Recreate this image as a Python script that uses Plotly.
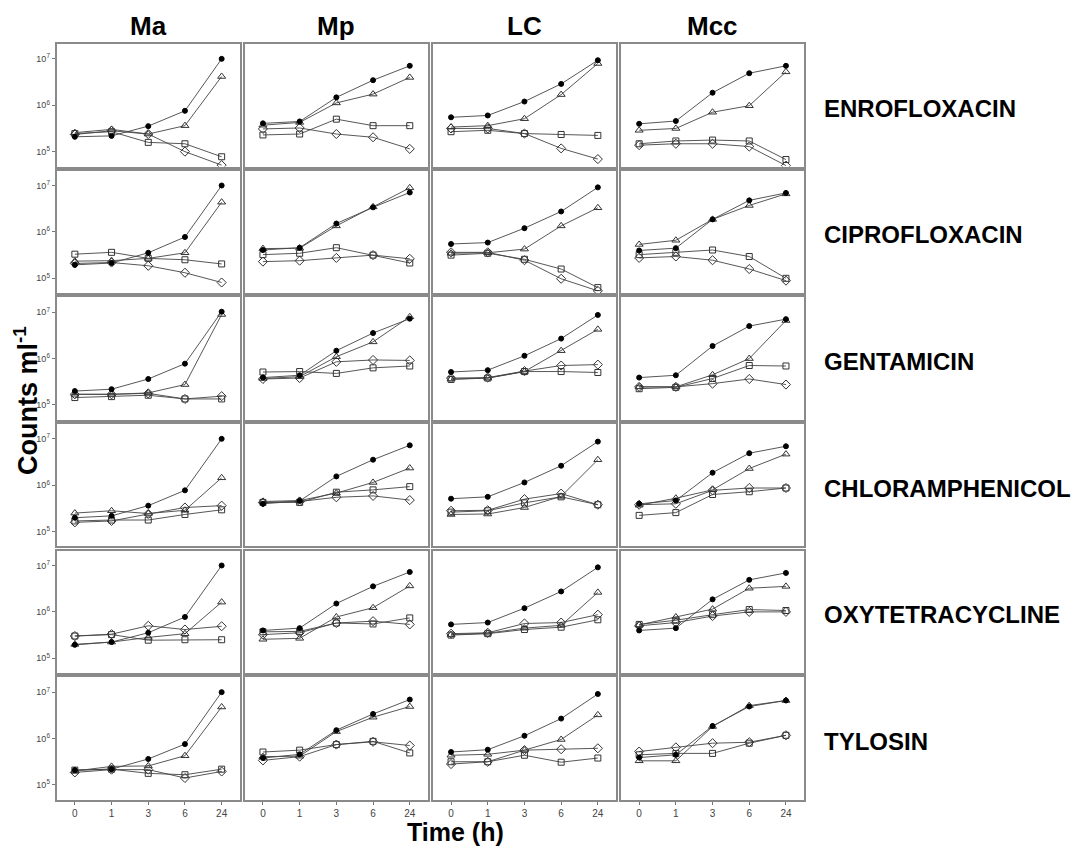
import plotly.graph_objects as go
from plotly.subplots import make_subplots

# ---------------- data (log10 counts per ml) ----------------
times = ["0", "1", "3", "6", "24"]
strains = ["Ma", "Mp", "LC", "Mcc"]
antibiotics = ["ENROFLOXACIN", "CIPROFLOXACIN", "GENTAMICIN",
               "CHLORAMPHENICOL", "OXYTETRACYCLINE", "TYLOSIN"]
ytick_vals = [5, 6, 7]
ytick_text = ["10<sup>5</sup>", "10<sup>6</sup>", "10<sup>7</sup>"]

# each list: [filled circle, open triangle, open square, open diamond]
enro_Ma = [[5.32, 5.34, 5.55, 5.88, 7.00], [5.41, 5.48, 5.38, 5.56, 6.62],
           [5.39, 5.43, 5.20, 5.17, 4.89], [5.37, 5.45, 5.38, 5.00, 4.71]]
enro_Mp = [[5.61, 5.65, 6.17, 6.54, 6.85], [5.57, 5.63, 6.05, 6.24, 6.60],
           [5.36, 5.38, 5.70, 5.56, 5.56], [5.49, 5.51, 5.38, 5.31, 5.06]]
enro_LC = [[5.74, 5.78, 6.08, 6.46, 6.97], [5.53, 5.56, 5.71, 6.23, 6.90],
           [5.43, 5.46, 5.39, 5.37, 5.35], [5.50, 5.50, 5.39, 5.07, 4.84]]
enro_Mcc = [[5.60, 5.66, 6.27, 6.69, 6.85], [5.46, 5.50, 5.85, 5.99, 6.72],
            [5.17, 5.23, 5.25, 5.23, 4.83], [5.14, 5.17, 5.17, 5.11, 4.70]]

cipro_Ma = [[5.29, 5.33, 5.55, 5.89, 7.00], [5.37, 5.38, 5.43, 5.55, 6.64],
            [5.52, 5.56, 5.43, 5.40, 5.31], [5.32, 5.34, 5.27, 5.12, 4.91]]
cipro_Mp = [[5.61, 5.66, 6.18, 6.53, 6.85], [5.64, 5.65, 6.13, 6.54, 6.95],
            [5.51, 5.54, 5.66, 5.50, 5.33], [5.36, 5.38, 5.44, 5.50, 5.42]]
cipro_LC = [[5.74, 5.77, 6.08, 6.44, 6.96], [5.54, 5.55, 5.63, 6.13, 6.52],
            [5.50, 5.54, 5.41, 5.20, 4.80], [5.56, 5.56, 5.39, 4.99, 4.73]]
cipro_Mcc = [[5.60, 5.65, 6.27, 6.68, 6.84], [5.73, 5.82, 6.27, 6.57, 6.82],
             [5.51, 5.56, 5.61, 5.47, 5.00], [5.44, 5.47, 5.39, 5.20, 4.95]]

genta_Ma = [[5.30, 5.34, 5.56, 5.89, 7.01], [5.23, 5.23, 5.26, 5.44, 6.95],
            [5.16, 5.18, 5.21, 5.13, 5.13], [5.23, 5.23, 5.25, 5.13, 5.19]]
genta_Mp = [[5.59, 5.64, 6.17, 6.55, 6.86], [5.57, 5.61, 6.04, 6.36, 6.90],
            [5.71, 5.72, 5.68, 5.80, 5.84], [5.56, 5.58, 5.93, 5.97, 5.96]]
genta_LC = [[5.71, 5.75, 6.06, 6.43, 6.94], [5.56, 5.58, 5.72, 6.17, 6.63],
            [5.55, 5.58, 5.72, 5.72, 5.70], [5.58, 5.59, 5.73, 5.85, 5.87]]
genta_Mcc = [[5.59, 5.64, 6.27, 6.70, 6.85], [5.39, 5.39, 5.65, 6.00, 6.82],
             [5.35, 5.38, 5.57, 5.85, 5.84], [5.39, 5.39, 5.46, 5.56, 5.44]]

chlor_Ma = [[5.30, 5.34, 5.56, 5.89, 7.00], [5.40, 5.45, 5.39, 5.46, 6.16],
            [5.23, 5.25, 5.25, 5.37, 5.47], [5.20, 5.23, 5.38, 5.52, 5.56]]
chlor_Mp = [[5.60, 5.66, 6.19, 6.55, 6.86], [5.65, 5.67, 5.83, 6.06, 6.37],
            [5.63, 5.63, 5.85, 5.90, 5.97], [5.63, 5.65, 5.74, 5.77, 5.68]]
chlor_LC = [[5.71, 5.75, 6.06, 6.42, 6.94], [5.37, 5.38, 5.52, 5.76, 6.55],
            [5.42, 5.45, 5.62, 5.75, 5.58], [5.45, 5.46, 5.70, 5.82, 5.58]]
chlor_Mcc = [[5.60, 5.67, 6.27, 6.69, 6.84], [5.57, 5.72, 5.90, 6.36, 6.67],
             [5.35, 5.41, 5.80, 5.86, 5.94], [5.58, 5.60, 5.89, 5.94, 5.94]]

oxy_Ma = [[5.29, 5.35, 5.55, 5.89, 7.00], [5.30, 5.35, 5.45, 5.53, 6.21],
          [5.48, 5.51, 5.39, 5.40, 5.40], [5.48, 5.52, 5.70, 5.62, 5.69]]
oxy_Mp = [[5.60, 5.65, 6.18, 6.55, 6.86], [5.41, 5.43, 5.89, 6.09, 6.56],
          [5.57, 5.58, 5.76, 5.74, 5.87], [5.51, 5.55, 5.76, 5.80, 5.73]]
oxy_LC = [[5.73, 5.77, 6.08, 6.44, 6.96], [5.51, 5.54, 5.65, 5.71, 6.42],
          [5.50, 5.53, 5.62, 5.67, 5.83], [5.53, 5.55, 5.75, 5.77, 5.94]]
oxy_Mcc = [[5.60, 5.65, 6.27, 6.69, 6.84], [5.72, 5.89, 6.06, 6.51, 6.55],
           [5.73, 5.82, 5.94, 6.05, 6.03], [5.70, 5.77, 5.91, 6.00, 6.00]]

tylo_Ma = [[5.32, 5.34, 5.56, 5.88, 7.00], [5.30, 5.40, 5.41, 5.63, 6.68],
           [5.32, 5.34, 5.25, 5.22, 5.34], [5.27, 5.33, 5.33, 5.15, 5.29]]
tylo_Mp = [[5.58, 5.66, 6.18, 6.53, 6.84], [5.61, 5.62, 6.15, 6.46, 6.69],
           [5.71, 5.75, 5.87, 5.94, 5.69], [5.53, 5.61, 5.87, 5.93, 5.85]]
tylo_LC = [[5.71, 5.76, 6.06, 6.43, 6.96], [5.64, 5.66, 5.75, 5.98, 6.51],
           [5.50, 5.50, 5.64, 5.49, 5.58], [5.45, 5.50, 5.75, 5.77, 5.79]]
tylo_Mcc = [[5.59, 5.65, 6.27, 6.69, 6.82], [5.52, 5.52, 6.26, 6.71, 6.82],
            [5.65, 5.68, 5.68, 5.90, 6.07], [5.72, 5.81, 5.90, 5.92, 6.07]]

panels = [
    [enro_Ma, enro_Mp, enro_LC, enro_Mcc],
    [cipro_Ma, cipro_Mp, cipro_LC, cipro_Mcc],
    [genta_Ma, genta_Mp, genta_LC, genta_Mcc],
    [chlor_Ma, chlor_Mp, chlor_LC, chlor_Mcc],
    [oxy_Ma, oxy_Mp, oxy_LC, oxy_Mcc],
    [tylo_Ma, tylo_Mp, tylo_LC, tylo_Mcc],
]

# ---------------- styling ----------------
# the page body has an 8 px default margin, so the figure is 16 px smaller
# than the window and all positions are given in figure pixels
W, H = 1069, 841
FONT = "Liberation Sans, Arial, Helvetica, sans-serif"
series_style = [
    dict(symbol="circle", size=5, color="black", lc="black"),
    dict(symbol="triangle-up-open", size=7, color="#333", lc="#333"),
    dict(symbol="square-open", size=6, color="#333", lc="#333"),
    dict(symbol="diamond-open", size=7, color="#333", lc="#333"),
]
draw_order = [3, 2, 1, 0]

col_left = [48.5 + c * 188.1 for c in range(4)]
col_w = 183.5
row_top = [36 + r * 126.66 for r in range(6)]
row_h = 122.5

fig = make_subplots(rows=6, cols=4)

for r in range(6):
    for c in range(4):
        data = panels[r][c]
        for k in draw_order:
            st = series_style[k]
            fig.add_trace(go.Scatter(
                x=times, y=data[k], mode="lines+markers",
                line=dict(color="#444", width=0.9),
                marker=dict(symbol=st["symbol"], size=st["size"], color=st["color"],
                            line=dict(color=st["lc"], width=1)),
                showlegend=False, hoverinfo="skip"), row=r + 1, col=c + 1)

axis_common = dict(showline=True, mirror=True, linecolor="#8a8a8a", linewidth=1.6,
                   showgrid=False, zeroline=False)
lay = {}
for r in range(6):
    for c in range(4):
        n = r * 4 + c + 1
        xa = "xaxis" if n == 1 else f"xaxis{n}"
        ya = "yaxis" if n == 1 else f"yaxis{n}"
        x0 = col_left[c] / W
        x1 = (col_left[c] + col_w) / W
        y1 = 1 - row_top[r] / H
        y0 = 1 - (row_top[r] + row_h) / H
        bottom = (r == 5)
        left = (c == 0)
        lay[xa] = dict(domain=[x0, x1], type="category", categoryorder="array",
                       categoryarray=times, range=[-0.5, 4.5],
                       showticklabels=bottom, ticks="outside" if bottom else "",
                       ticklen=3, tickcolor="#777",
                       tickfont=dict(family=FONT, size=10, color="#444"),
                       **axis_common)
        lay[ya] = dict(domain=[y0, y1], range=[4.68, 7.32],
                       tickvals=ytick_vals, ticktext=ytick_text,
                       showticklabels=left, ticks="outside" if left else "",
                       ticklen=3, tickcolor="#777",
                       tickfont=dict(family=FONT, size=9, color="#444"),
                       **axis_common)
fig.update_layout(**lay)

ann = []
for c, s in enumerate(strains):
    ann.append(dict(text=f"<b>{s}</b>", x=(col_left[c] + col_w / 2) / W, y=1 - 18 / H,
                    xref="paper", yref="paper", showarrow=False,
                    xanchor="center", yanchor="middle",
                    font=dict(family=FONT, size=26, color="black")))
for r, a in enumerate(antibiotics):
    ann.append(dict(text=f"<b>{a}</b>", x=813.5 / W, y=1 - (row_top[r] + row_h / 2 + 3) / H,
                    xref="paper", yref="paper", showarrow=False,
                    xanchor="left", yanchor="middle",
                    font=dict(family=FONT, size=24, color="black")))
ann.append(dict(text="<b>Counts ml<sup>-1</sup></b>", x=18 / W, y=1 - 393 / H,
                xref="paper", yref="paper", showarrow=False, textangle=-90,
                xanchor="center", yanchor="middle",
                font=dict(family=FONT, size=27, color="black")))
ann.append(dict(text="<b>Time (h)</b>", x=447 / W, y=1 - 824 / H,
                xref="paper", yref="paper", showarrow=False,
                xanchor="center", yanchor="middle",
                font=dict(family=FONT, size=25, color="black")))

fig.update_layout(width=W, height=H, margin=dict(l=0, r=0, t=0, b=0),
                  paper_bgcolor="white", plot_bgcolor="white", annotations=ann)

fig.write_html("out.html")
